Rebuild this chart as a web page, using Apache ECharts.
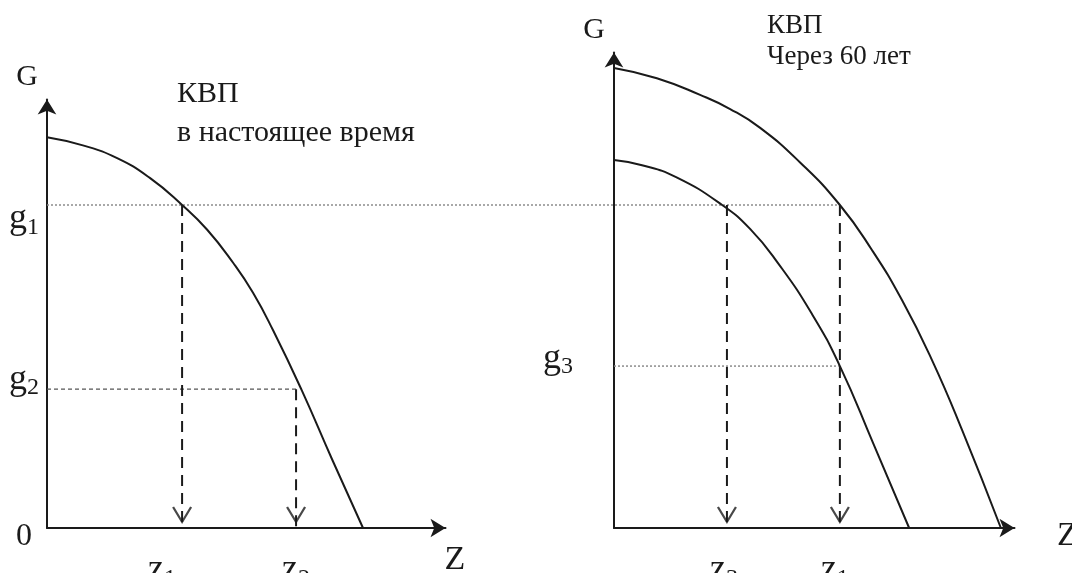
<!DOCTYPE html>
<html>
<head>
  <meta charset="UTF-8">
  <title>КВП</title>
  <style>
    * { margin: 0; padding: 0; box-sizing: border-box; }
    body { width: 1072px; height: 573px; background: #fff; overflow: hidden; }
    #chart { width: 1072px; height: 573px; }
  </style>
  <script src="https://cdn.jsdelivr.net/npm/echarts@6.0.0/dist/echarts.min.js"></script>
</head>
<body>
  <div id="chart"></div>
  <script>
    // КВП в настоящее время (левый график)
    const nowZ = [0, 9.0, 17.6, 25.8, 33.9, 40.2, 46.7, 51.7, 56.7, 63.8, 71.5, 79.3]
    const nowG = [91.2, 89.3, 86.3, 81.7, 75.4, 69.6, 61.9, 54.9, 46.2, 32.4, 16.1, 0]

    // КВП через 60 лет (правый график): верхняя и нижняя кривые
    const outerZ = [0, 10.7, 21.5, 29.0, 36.5, 46.4, 56.4, 64.4, 71.9, 79.4, 86.9, 96.6]
    const outerG = [107.4, 105.0, 101.1, 97.8, 93.4, 85.4, 75.4, 64.9, 53.2, 39.2, 22.9, 0]
    const innerZ = [0, 7.0, 15.5, 27.0, 34.2, 40.9, 49.4, 56.4, 64.7, 73.7]
    const innerG = [85.9, 84.7, 81.9, 75.4, 69.6, 61.9, 50.0, 37.8, 19.8, 0]

    // отметки на осях
    const leftGNames = ['g2', 'g1']
    const leftGValues = [32.4, 75.4]
    const leftZNames = ['z1', 'z2']
    const leftZValues = [33.9, 62.5]
    const rightGNames = ['g3']
    const rightGValues = [37.8]
    const rightZNames = ['z3', 'z1']
    const rightZValues = [28.2, 56.4]

    const SERIF = 'Liberation Serif, Times New Roman, serif'
    const INK = '#1a1a1a'

    // сдвиги подписей [x, y] в пикселях
    const labelShift = {
      'L:g1': [0, 14], 'L:g2': [0, -10], 'R:g3': [0, -8],
      'L:z1': [-20, 0], 'L:z2': [0, 0], 'R:z3': [-3, 0], 'R:z1': [-5, 0]
    }

    // подпись вида g₁ через rich text
    const makeRich = (side, names) => {
      const rich = {}
      names.forEach(n => {
        const [dx, dy] = labelShift[side + ':' + n] || [0, 0]
        const pt = dy > 0 ? dy * 2 : 0
        const pb = dy < 0 ? -dy * 2 : 0
        const pr = dx < 0 ? -dx * 2 : 0
        const key = side + n
        rich['b' + key] = { fontSize: 36, fontFamily: SERIF, color: INK, padding: [pt, 0, pb, 0] }
        rich['s' + key] = { fontSize: 24, fontFamily: SERIF, color: INK, padding: [pt + 18, pr, pb, 0] }
      })
      return rich
    }
    const makeFormatter = (side, names, values) => v => {
      const n = names[values.indexOf(v)]
      if (!n) return ''
      const key = side + n
      return '{b' + key + '|' + n[0] + '}{s' + key + '|' + n.slice(1) + '}'
    }

    const axisLine = {
      show: true,
      lineStyle: { color: INK, width: 2 },
      symbol: ['none', 'arrow'],
      symbolSize: [14, 15]
    }
    const baseAxis = {
      type: 'value',
      min: 0,
      axisLine,
      axisTick: { show: false },
      splitLine: { show: false }
    }

    const dotted = { color: '#8c8c8c', width: 1.5, type: [2, 2] }
    const dashedThin = { color: '#555', width: 1.2, type: [4, 3] }
    const dashedArrow = { color: INK, width: 2, type: [11, 7] }

    const seg = (grid, data, style, extra) => Object.assign({
      type: 'line',
      xAxisIndex: grid,
      yAxisIndex: grid,
      data,
      symbol: 'none',
      silent: true,
      lineStyle: style
    }, extra || {})

    const curve = (grid, zs, gs) => seg(grid, zs.map((z, i) => [z, gs[i]]), { color: INK, width: 2 }, { smooth: 0.5, z: 5 })

    const chevrons = (grid, zs) => ({
      type: 'scatter',
      xAxisIndex: grid,
      yAxisIndex: grid,
      data: zs.map(z => [z, 0]),
      symbol: 'path://M0,0L9,15L18,0',
      symbolSize: [18, 15],
      symbolOffset: [0, -13.5],
      silent: true,
      z: 6,
      itemStyle: { color: 'none', borderColor: INK, borderWidth: 2 }
    })

    const g1 = leftGValues[1]
    const g2 = leftGValues[0]
    const g3 = rightGValues[0]

    const text = (id, x, y, str, size, extra) => ({
      id,
      type: 'text',
      x,
      y,
      style: Object.assign({ text: str, font: size + 'px ' + SERIF, fill: INK, align: 'center', verticalAlign: 'middle' }, extra || {})
    })

    const option = {
      animation: false,
      backgroundColor: '#fff',
      grid: [
        { left: 47, top: 99.5, width: 398.5, height: 428.5, outerBoundsMode: 'none', containLabel: false },
        { left: 614, top: 52.5, width: 400.5, height: 475.5, outerBoundsMode: 'none', containLabel: false }
      ],
      xAxis: [
        Object.assign({}, baseAxis, {
          gridIndex: 0, max: 100,
          axisLabel: { customValues: leftZValues, margin: 21, formatter: makeFormatter('L', leftZNames, leftZValues), rich: makeRich('L', leftZNames) }
        }),
        Object.assign({}, baseAxis, {
          gridIndex: 1, max: 100,
          axisLabel: { customValues: rightZValues, margin: 21, formatter: makeFormatter('R', rightZNames, rightZValues), rich: makeRich('R', rightZNames) }
        })
      ],
      yAxis: [
        Object.assign({}, baseAxis, {
          gridIndex: 0, max: 100,
          axisLabel: { customValues: leftGValues, margin: 8, formatter: makeFormatter('L', leftGNames, leftGValues), rich: makeRich('L', leftGNames) }
        }),
        Object.assign({}, baseAxis, {
          gridIndex: 1, max: 111,
          axisLabel: { customValues: rightGValues, margin: 41, formatter: makeFormatter('R', rightGNames, rightGValues), rich: makeRich('R', rightGNames) }
        })
      ],
      graphic: [
        text('gL', 27, 77, 'G', 30),
        text('gR', 594, 30, 'G', 30),
        text('zero', 24, 537, '0', 32),
        text('zL', 455, 560, 'Z', 34),
        text('zR', 1057, 536, 'Z', 34, { align: 'left' }),
        text('titleL', 177, 75, 'КВП\nв настоящее время', 30, { lineHeight: 39, align: 'left', verticalAlign: 'top' }),
        text('titleR', 767, 10, 'КВП\nЧерез 60 лет', 27, { lineHeight: 31, align: 'left', verticalAlign: 'top' })
      ],
      series: [
        // левый график
        seg(0, [[0, g2], [leftZValues[1], g2]], dashedThin),
        seg(0, [[leftZValues[0], g1], [leftZValues[0], 0]], dashedArrow),
        seg(0, [[leftZValues[1], g2], [leftZValues[1], 0]], dashedArrow),
        curve(0, nowZ, nowG),
        chevrons(0, leftZValues),
        // правый график
        seg(1, [[0, g3], [rightZValues[1], g3]], dotted),
        seg(1, [[rightZValues[0], g1], [rightZValues[0], 0]], dashedArrow),
        seg(1, [[rightZValues[1], g1], [rightZValues[1], 0]], dashedArrow),
        curve(1, outerZ, outerG),
        curve(1, innerZ, innerG),
        chevrons(1, rightZValues)
      ]
    }

    const chart = echarts.init(document.getElementById('chart'))
    chart.setOption(option)

    // пунктир g1 идёт через оба графика: от оси G слева до точки z1 справа
    const from = chart.convertToPixel({ gridIndex: 0 }, [0, g1])
    const to = chart.convertToPixel({ gridIndex: 1 }, [rightZValues[1], g1])
    chart.setOption({
      graphic: [{
        id: 'g1line',
        type: 'line',
        z: 1,
        silent: true,
        shape: { x1: from[0], y1: from[1], x2: to[0], y2: to[1] },
        style: { stroke: dotted.color, lineWidth: dotted.width, lineDash: dotted.type }
      }]
    })
  </script>
</body>
</html>
